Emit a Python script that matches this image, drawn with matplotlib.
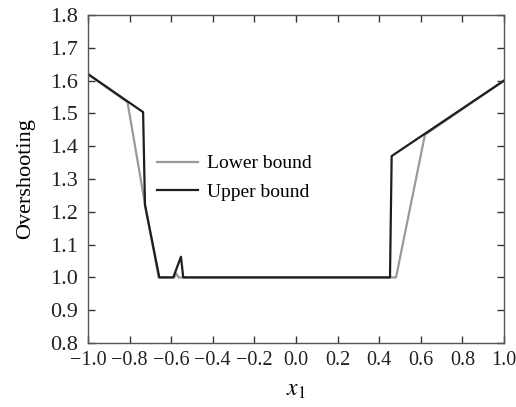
import matplotlib
matplotlib.use('Agg')
import matplotlib.pyplot as plt

plt.rcParams.update({
    'font.family': 'Liberation Serif',
    'mathtext.fontset': 'stix',
    'font.size': 14,
})

# data
x_upper = [-1.0, -0.735, -0.726, -0.657, -0.59, -0.553, -0.542, 0.452, 0.46, 1.0]
y_upper = [1.62, 1.504, 1.221, 1.0, 1.0, 1.063, 1.0, 1.0, 1.37, 1.60]
x_lower = [-1.0, -0.81, -0.725, -0.66, -0.585, -0.575, -0.565, 0.481, 0.62, 1.0]
y_lower = [1.62, 1.534, 1.22, 1.0, 1.0, 1.012, 1.0, 1.0, 1.435, 1.60]

xticks = [-1.0, -0.8, -0.6, -0.4, -0.2, 0.0, 0.2, 0.4, 0.6, 0.8, 1.0]
yticks = [0.8, 0.9, 1.0, 1.1, 1.2, 1.3, 1.4, 1.5, 1.6, 1.7, 1.8]

fig = plt.figure(figsize=(5.16, 4.07), dpi=100)
ax = fig.add_axes([0.1705, 0.1572, 0.8062, 0.8059])

ax.plot(x_lower, y_lower, color='#9a9a9a', lw=1.6, label='Lower bound')
ax.plot(x_upper, y_upper, color='#1e1e1e', lw=1.6, label='Upper bound')

ax.set_xlim(-1.0, 1.0)
ax.set_ylim(0.8, 1.8)
ax.set_xticks(xticks)
ax.set_yticks(yticks)
ax.set_xticklabels([f'{v:.1f}'.replace('-', '\u2212') for v in xticks], fontsize=14.5)
ax.set_yticklabels([f'{v:.1f}' for v in yticks], fontsize=16)
ax.tick_params(direction='in', top=True, right=True, length=5, width=1, colors='#333333',
               labelcolor='#222222')
ax.tick_params(axis='y', pad=7)
ax.tick_params(axis='x', pad=6)
for s in ax.spines.values():
    s.set_color('#555555')
    s.set_linewidth(1.0)

ax.set_xlabel('$x_1$', fontsize=17, labelpad=7)
ax.set_ylabel('Overshooting', fontsize=16, labelpad=11)

ax.legend(loc='upper left', bbox_to_anchor=(0.125, 0.627), frameon=False, fontsize=14,
          handlelength=2.1, handletextpad=0.45, labelspacing=0.55)

fig.savefig('out.png', dpi=100)
